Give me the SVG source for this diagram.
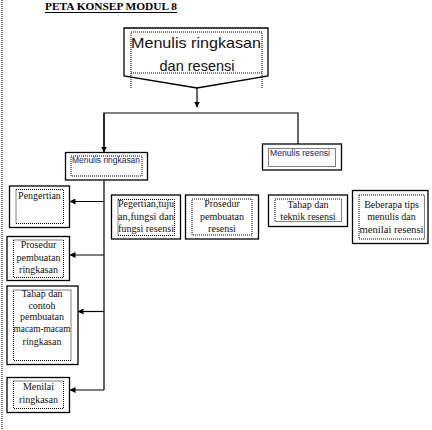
<svg xmlns="http://www.w3.org/2000/svg" width="432" height="430" viewBox="0 0 432 430">
<defs>
<marker id="ah" markerWidth="6" markerHeight="6" refX="5.5" refY="3" orient="auto" markerUnits="userSpaceOnUse">
<path d="M0,0 L6,3 L0,6 Z" fill="#000"/>
</marker>
<style>
.box{fill:#fff;stroke:#000;stroke-width:1.3}
.dot{fill:none;stroke:#000;stroke-width:1;stroke-dasharray:1,1}
.ln{fill:none;stroke:#000;stroke-width:1.2}
.s{font-family:"Liberation Serif","Times New Roman",serif;font-size:10px;fill:#111}
.m{text-anchor:middle}
.sans{font-family:"Liberation Sans",Arial,sans-serif;font-size:8.5px;fill:#1a1a50}
</style>
</defs>
<rect width="432" height="430" fill="#fff"/>
<line x1="2" y1="0" x2="2" y2="430" class="dot"/>
<g id="title">
<text x="45" y="10" font-family="Liberation Serif,'Times New Roman',serif" font-weight="bold" font-size="10" textLength="132" lengthAdjust="spacingAndGlyphs" fill="#000">PETA KONSEP MODUL 8</text>
<line x1="45" y1="12.5" x2="177" y2="12.5" stroke="#000" stroke-width="1"/>
</g>
<g id="connectors">
<line x1="197" y1="88" x2="197" y2="107" class="ln" marker-end="url(#ah)"/>
<polyline points="104,152 104,113 298,113 298,144" class="ln"/>
<line x1="104" y1="113" x2="104" y2="152" class="ln" marker-end="url(#ah)"/>
<line x1="104" y1="180" x2="104" y2="390" class="ln"/>
<line x1="104" y1="201.5" x2="70" y2="201.5" class="ln" marker-end="url(#ah)"/>
<line x1="104" y1="255" x2="70" y2="255" class="ln" marker-end="url(#ah)"/>
<line x1="104" y1="311.5" x2="78" y2="311.5" class="ln" marker-end="url(#ah)"/>
<line x1="104" y1="390" x2="70" y2="390" class="ln" marker-end="url(#ah)"/>
</g>
<g id="root">
<polygon points="124,28 268,28 268,76 197,88 124,76" class="box"/>
<rect x="131" y="32" width="131" height="41" class="dot"/>
<line x1="131" y1="73" x2="131" y2="88" class="dot"/>
<line x1="262" y1="73" x2="262" y2="88" class="dot"/>
<text x="131" y="48" font-family="Liberation Sans,Arial,sans-serif" font-size="14.5" textLength="130" lengthAdjust="spacingAndGlyphs" fill="#111">Menulis ringkasan</text>
<text x="197" y="71" font-family="Liberation Sans,Arial,sans-serif" font-size="14.5" text-anchor="middle" fill="#111">dan resensi</text>
</g>
<g id="menulis-ringkasan">
<rect x="65.5" y="152.5" width="82" height="27.5" class="box"/>
<rect x="71" y="156" width="71" height="20" class="dot"/>
<text x="72" y="163" class="sans" textLength="68" lengthAdjust="spacingAndGlyphs">Menulis ringkasan</text>
</g>
<g id="menulis-resensi">
<rect x="262.5" y="144" width="79" height="26" class="box"/>
<rect x="268.5" y="148.5" width="67" height="18" class="dot"/>
<text x="270" y="156" class="sans" textLength="60" lengthAdjust="spacingAndGlyphs">Menulis resensi</text>
</g>
<g id="pegertian">
<rect x="111.5" y="195" width="69" height="44" class="box"/>
<rect x="118" y="199.5" width="56.5" height="36" class="dot"/>
<text x="118" y="207" class="s" textLength="56" lengthAdjust="spacingAndGlyphs">Pegertian,tuju</text>
<text x="118" y="219.5" class="s" textLength="56" lengthAdjust="spacingAndGlyphs">an,fungsi dan</text>
<text x="118" y="231.5" class="s" textLength="56" lengthAdjust="spacingAndGlyphs">fungsi resensi</text>
</g>
<g id="prosedur-resensi">
<rect x="185.5" y="195" width="73" height="44" class="box"/>
<rect x="192" y="199" width="60" height="36" class="dot"/>
<text x="222" y="207" class="s m">Prosedur</text>
<text x="222" y="219.5" class="s m">pembuatan</text>
<text x="222" y="231.5" class="s m">resensi</text>
</g>
<g id="tahap-resensi">
<rect x="268.5" y="195" width="79" height="31.5" class="box"/>
<rect x="275" y="199" width="66.5" height="22.5" class="dot"/>
<text x="308" y="207.5" class="s m">Tahap dan</text>
<text x="308" y="219.5" class="s m">teknik resensi</text>
</g>
<g id="tips-resensi">
<rect x="352.5" y="190.5" width="75.5" height="53" class="box"/>
<rect x="359" y="195" width="65.5" height="44" class="dot"/>
<text x="391.5" y="207.5" class="s m">Beberapa tips</text>
<text x="391.5" y="219.5" class="s m">menulis dan</text>
<text x="391.5" y="232.5" class="s m" textLength="64" lengthAdjust="spacingAndGlyphs">menilai resensi</text>
</g>
<g id="pengertian">
<rect x="9.5" y="186" width="60" height="41.5" class="box"/>
<rect x="16" y="189.5" width="47.5" height="34" class="dot"/>
<text x="39.5" y="198.5" class="s m">Pengertian</text>
</g>
<g id="prosedur-ringkasan">
<rect x="7" y="236.5" width="62.5" height="44" class="box"/>
<rect x="13.5" y="240" width="50" height="37.5" class="dot"/>
<text x="38.5" y="248" class="s m">Prosedur</text>
<text x="38.5" y="261" class="s m">pembuatan</text>
<text x="38.5" y="273" class="s m">ringkasan</text>
</g>
<g id="tahap-ringkasan">
<rect x="7" y="286" width="71" height="78.5" class="box"/>
<rect x="13.5" y="290" width="57.5" height="70.5" class="dot"/>
<text x="42" y="297" class="s m">Tahap dan</text>
<text x="42" y="308.5" class="s m">contoh</text>
<text x="42" y="320" class="s m">pembuatan</text>
<text x="42" y="332" class="s m" textLength="57" lengthAdjust="spacingAndGlyphs">macam-macam</text>
<text x="42" y="344.5" class="s m">ringkasan</text>
</g>
<g id="menilai-ringkasan">
<rect x="7" y="377.5" width="62.5" height="35" class="box"/>
<rect x="13.5" y="381" width="50" height="27.5" class="dot"/>
<text x="38.5" y="390" class="s m">Menilai</text>
<text x="38.5" y="402.5" class="s m">ringkasan</text>
</g>
</svg>
